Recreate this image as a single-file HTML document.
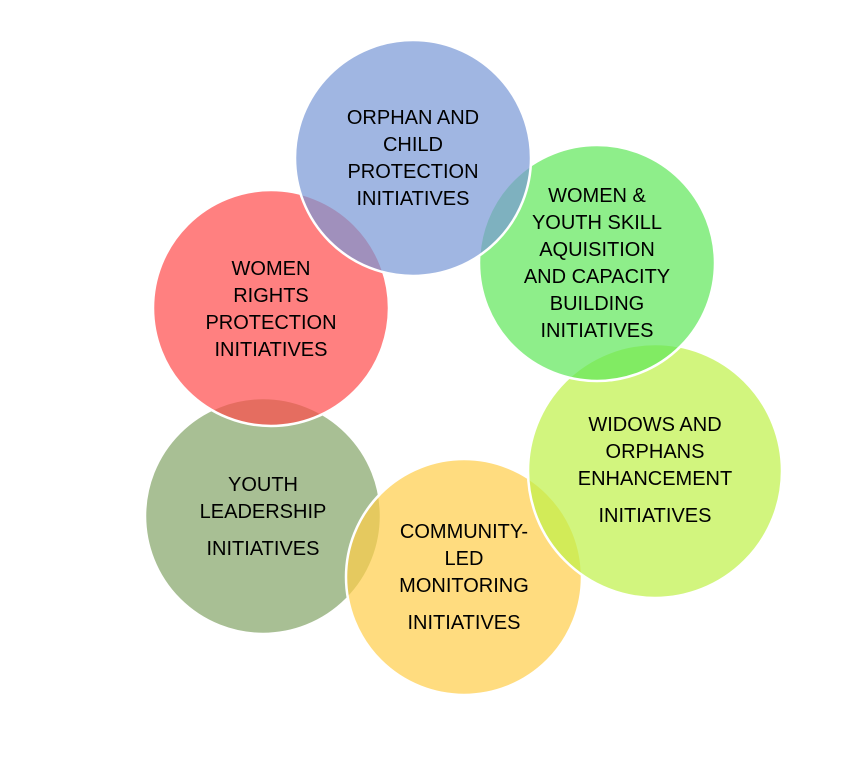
<!DOCTYPE html>
<html><head><style>
body{margin:0;background:#fff;}
svg text{font-family:"Liberation Sans",sans-serif;font-size:20px;fill:#000;text-anchor:middle;}
</style></head><body>
<svg width="858" height="773" viewBox="0 0 858 773" xmlns="http://www.w3.org/2000/svg">
<g stroke="#fff" stroke-width="2.5">
<circle cx="263" cy="516" r="118" fill="rgb(131,164,102)" fill-opacity="0.7"/>
<circle cx="464" cy="577" r="118" fill="rgb(255,205,72)" fill-opacity="0.7"/>
<circle cx="655" cy="471" r="127" fill="rgb(191,241,71)" fill-opacity="0.7"/>
<circle cx="597" cy="263" r="118" fill="rgb(94,231,88)" fill-opacity="0.7"/>
<circle cx="271" cy="308" r="118" fill="rgb(255,74,74)" fill-opacity="0.7"/>
<circle cx="413" cy="158" r="118" fill="rgb(119,151,214)" fill-opacity="0.7"/>
</g>
<text x="413" y="124">ORPHAN AND</text>
<text x="413" y="151">CHILD</text>
<text x="413" y="178">PROTECTION</text>
<text x="413" y="205">INITIATIVES</text>
<text x="597" y="202">WOMEN &amp;</text>
<text x="597" y="229">YOUTH SKILL</text>
<text x="597" y="256">AQUISITION</text>
<text x="597" y="283">AND CAPACITY</text>
<text x="597" y="310">BUILDING</text>
<text x="597" y="337">INITIATIVES</text>
<text x="271" y="275">WOMEN</text>
<text x="271" y="302">RIGHTS</text>
<text x="271" y="329">PROTECTION</text>
<text x="271" y="356">INITIATIVES</text>
<text x="655" y="431">WIDOWS AND</text>
<text x="655" y="458">ORPHANS</text>
<text x="655" y="485">ENHANCEMENT</text>
<text x="655" y="522">INITIATIVES</text>
<text x="263" y="491">YOUTH</text>
<text x="263" y="518">LEADERSHIP</text>
<text x="263" y="555">INITIATIVES</text>
<text x="464" y="538">COMMUNITY-</text>
<text x="464" y="565">LED</text>
<text x="464" y="592">MONITORING</text>
<text x="464" y="629">INITIATIVES</text>
</svg>
</body></html>
